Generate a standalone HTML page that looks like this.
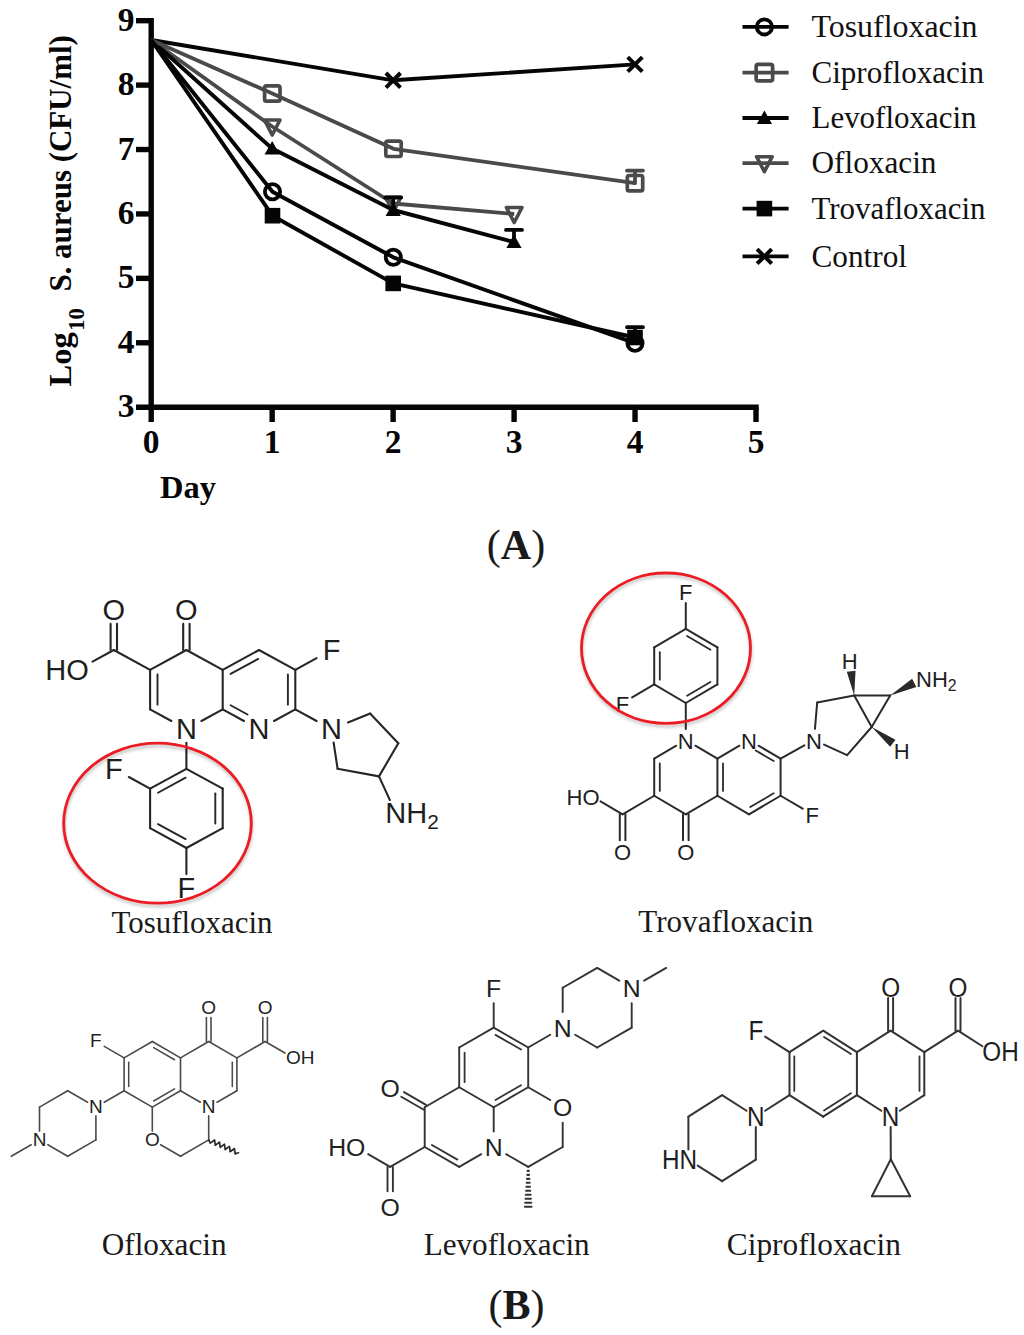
<!DOCTYPE html>
<html><head><meta charset="utf-8"><title>Figure</title>
<style>html,body{margin:0;padding:0;background:#fff}svg{display:block}</style></head>
<body>
<svg width="1024" height="1335" viewBox="0 0 1024 1335">
<rect width="1024" height="1335" fill="#fff"/>
<g fill="none" stroke="#050505" stroke-width="5.4" stroke-linecap="butt">
<path d="M151.2 18 V422"/>
<path d="M136 407.2 H758.7"/>
<path d="M136 342.78 H151.2"/>
<path d="M136 278.36 H151.2"/>
<path d="M136 213.94 H151.2"/>
<path d="M136 149.52 H151.2"/>
<path d="M136 85.1 H151.2"/>
<path d="M136 20.68 H151.2"/>
<path d="M272.16 407.2 V422"/>
<path d="M393.12 407.2 V422"/>
<path d="M514.08 407.2 V422"/>
<path d="M635.04 407.2 V422"/>
<path d="M756 407.2 V422"/>
</g>
<g font-family="Liberation Serif" font-weight="bold" font-size="32.5" fill="#050505">
<text x="134.5" y="417.2" text-anchor="end" font-size="33.5">3</text>
<text x="134.5" y="352.78" text-anchor="end" font-size="33.5">4</text>
<text x="134.5" y="288.36" text-anchor="end" font-size="33.5">5</text>
<text x="134.5" y="223.94" text-anchor="end" font-size="33.5">6</text>
<text x="134.5" y="159.52" text-anchor="end" font-size="33.5">7</text>
<text x="134.5" y="95.1" text-anchor="end" font-size="33.5">8</text>
<text x="134.5" y="30.68" text-anchor="end" font-size="33.5">9</text>
<text x="151.2" y="453" text-anchor="middle" font-size="33.5">0</text>
<text x="272.16" y="453" text-anchor="middle" font-size="33.5">1</text>
<text x="393.12" y="453" text-anchor="middle" font-size="33.5">2</text>
<text x="514.08" y="453" text-anchor="middle" font-size="33.5">3</text>
<text x="635.04" y="453" text-anchor="middle" font-size="33.5">4</text>
<text x="756" y="453" text-anchor="middle" font-size="33.5">5</text>
<text x="188" y="498" text-anchor="middle">Day</text>
<text transform="translate(71.2 386.5) rotate(-90)" x="0" y="0">Log</text>
<text transform="translate(83.8 330.8) rotate(-90)" x="0" y="0" font-size="22.5">10</text>
<text transform="translate(71.2 291.6) rotate(-90)" x="0" y="0" textLength="256.5" lengthAdjust="spacingAndGlyphs">S. aureus (CFU/ml)</text>
</g>
<path d="M151.2 40 L393.2 80.3 L635 64.4" fill="none" stroke="#050505" stroke-width="3.9" stroke-linejoin="round"/>
<path d="M385.9 73 L400.5 87.6 M385.9 87.6 L400.5 73" stroke="#050505" stroke-width="4" fill="none"/>
<path d="M627.7 57.1 L642.3 71.7 M627.7 71.7 L642.3 57.1" stroke="#050505" stroke-width="4" fill="none"/>
<path d="M151.2 40 L272.5 215.7 L393.2 283.4 L635 337.5" fill="none" stroke="#050505" stroke-width="3.9" stroke-linejoin="round"/>
<path d="M635 337.5 V327.2 M627 327.2 H643" fill="none" stroke="#050505" stroke-width="3.8" stroke-linecap="round"/>
<rect x="264.7" y="207.9" width="15.6" height="15.6" fill="#050505"/>
<rect x="385.4" y="275.6" width="15.6" height="15.6" fill="#050505"/>
<rect x="627.2" y="329.7" width="15.6" height="15.6" fill="#050505"/>
<path d="M151.2 40 L272.2 126.5 L393.2 203.5 L514.2 214" fill="none" stroke="#4a4a4a" stroke-width="3.8" stroke-linejoin="round"/>
<path d="M264.4 120 L280 120 L272.2 135 Z" fill="none" stroke="#4a4a4a" stroke-width="3.6" stroke-linejoin="round"/>
<path d="M385.4 197 L401 197 L393.2 212 Z" fill="none" stroke="#4a4a4a" stroke-width="3.6" stroke-linejoin="round"/>
<path d="M506.4 207.5 L522 207.5 L514.2 222.5 Z" fill="none" stroke="#4a4a4a" stroke-width="3.6" stroke-linejoin="round"/>
<path d="M151.2 40 L272.2 148.6 L393.2 210 L514 242" fill="none" stroke="#050505" stroke-width="3.9" stroke-linejoin="round"/>
<path d="M393.2 210 V197.6 M385.2 197.6 H401.2" fill="none" stroke="#050505" stroke-width="3.8" stroke-linecap="round"/>
<path d="M514 242 V229.9 M506 229.9 H522" fill="none" stroke="#050505" stroke-width="3.8" stroke-linecap="round"/>
<path d="M272.2 141.1 L279.8 154.6 L264.6 154.6 Z" fill="#050505"/>
<path d="M393.2 202.5 L400.8 216 L385.6 216 Z" fill="#050505"/>
<path d="M514 234.5 L521.6 248 L506.4 248 Z" fill="#050505"/>
<path d="M151.2 40 L272.3 93.5 L393.5 148.8 L635 183.2" fill="none" stroke="#4a4a4a" stroke-width="3.8" stroke-linejoin="round"/>
<path d="M635 183.2 V170.6 M627 170.6 H643" fill="none" stroke="#4a4a4a" stroke-width="3.8" stroke-linecap="round"/>
<rect x="264.6" y="85.8" width="15.4" height="15.4" rx="2" fill="none" stroke="#4a4a4a" stroke-width="3.7"/>
<rect x="385.8" y="141.1" width="15.4" height="15.4" rx="2" fill="none" stroke="#4a4a4a" stroke-width="3.7"/>
<rect x="627.3" y="175.5" width="15.4" height="15.4" rx="2" fill="none" stroke="#4a4a4a" stroke-width="3.7"/>
<path d="M151.2 40 L272.5 191.7 L393.3 257.3 L635 343.2" fill="none" stroke="#050505" stroke-width="3.9" stroke-linejoin="round"/>
<circle cx="272.5" cy="191.7" r="7.6" fill="none" stroke="#050505" stroke-width="3.8"/>
<circle cx="393.3" cy="257.3" r="7.6" fill="none" stroke="#050505" stroke-width="3.8"/>
<circle cx="635" cy="343.2" r="7.6" fill="none" stroke="#050505" stroke-width="3.8"/>
<path d="M742.5 26.9 H788.6" stroke="#050505" stroke-width="3.8" fill="none"/>
<circle cx="764.4" cy="26.9" r="7.6" fill="none" stroke="#050505" stroke-width="3.8"/>
<text x="811.5" y="37.1" font-family="Liberation Serif" font-size="32.5" fill="#111" textLength="166" lengthAdjust="spacingAndGlyphs">Tosufloxacin</text>
<path d="M742.5 72.7 H788.6" stroke="#4a4a4a" stroke-width="3.8" fill="none"/>
<rect x="756.16" y="64.46" width="16.48" height="16.48" rx="2.14" fill="none" stroke="#4a4a4a" stroke-width="3.7"/>
<text x="811.5" y="82.9" font-family="Liberation Serif" font-size="32.5" fill="#111" textLength="172.5" lengthAdjust="spacingAndGlyphs">Ciprofloxacin</text>
<path d="M742.5 118 H788.6" stroke="#050505" stroke-width="3.8" fill="none"/>
<path d="M764.4 110.5 L772 124 L756.8 124 Z" fill="#050505"/>
<text x="811.5" y="128.2" font-family="Liberation Serif" font-size="32.5" fill="#111" textLength="165" lengthAdjust="spacingAndGlyphs">Levofloxacin</text>
<path d="M742.5 163.2 H788.6" stroke="#4a4a4a" stroke-width="3.8" fill="none"/>
<path d="M756.6 156.7 L772.2 156.7 L764.4 171.7 Z" fill="none" stroke="#4a4a4a" stroke-width="3.6" stroke-linejoin="round"/>
<text x="811.5" y="173.4" font-family="Liberation Serif" font-size="32.5" fill="#111" textLength="125" lengthAdjust="spacingAndGlyphs">Ofloxacin</text>
<path d="M742.5 208.6 H788.6" stroke="#050505" stroke-width="3.8" fill="none"/>
<rect x="756.6" y="200.8" width="15.6" height="15.6" fill="#050505"/>
<text x="811.5" y="218.8" font-family="Liberation Serif" font-size="32.5" fill="#111" textLength="174" lengthAdjust="spacingAndGlyphs">Trovafloxacin</text>
<path d="M742.5 256.4 H788.6" stroke="#050505" stroke-width="3.8" fill="none"/>
<path d="M757.1 249.1 L771.7 263.7 M757.1 263.7 L771.7 249.1" stroke="#050505" stroke-width="4" fill="none"/>
<text x="811.5" y="266.6" font-family="Liberation Serif" font-size="32.5" fill="#111" textLength="95.5" lengthAdjust="spacingAndGlyphs">Control</text>
<g stroke="#262626" stroke-width="2.1" fill="none" stroke-linecap="round" stroke-linejoin="round">
<path d="M189.6 650 L189.6 623.9"/>
<path d="M183.2 650 L183.2 623.9"/>
<path d="M186.4 650 L150.1 669.8"/>
<path d="M150.1 669.8 L113.8 650"/>
<path d="M117 650 L117 623.9"/>
<path d="M110.6 650 L110.6 623.9"/>
<path d="M113.8 650 L92.52 661.61"/>
<path d="M150.1 669.8 L150.1 709.4"/>
<path d="M157.5 674.55 L157.5 704.65" stroke-width="1.9"/>
<path d="M150.1 709.4 L171.38 721.01"/>
<path d="M201.42 721.01 L222.7 709.4"/>
<path d="M222.7 709.4 L222.7 669.8"/>
<path d="M222.7 669.8 L186.4 650"/>
<path d="M222.7 669.8 L259 650"/>
<path d="M230.6 673.92 L258.19 658.87" stroke-width="1.9"/>
<path d="M259 650 L295.3 669.8"/>
<path d="M295.3 669.8 L295.3 709.4"/>
<path d="M287.9 674.55 L287.9 704.65" stroke-width="1.9"/>
<path d="M295.3 709.4 L274.02 721.01"/>
<path d="M243.98 721.01 L222.7 709.4"/>
<path d="M247.52 714.51 L230.6 705.28" stroke-width="1.9"/>
<path d="M295.3 669.8 L316.58 658.19"/>
<path d="M295.3 709.4 L316.58 721.01"/>
<path d="M348.01 722.51 L370.1 713.5"/>
<path d="M370.1 713.5 L398.3 743.2"/>
<path d="M398.3 743.2 L379 776.4"/>
<path d="M379 776.4 L337.6 768.8"/>
<path d="M337.6 768.8 L333.63 742.62"/>
<path d="M379 776.4 L389.91 800.17"/>
<path d="M186.4 742.7 L186.4 768.8"/>
<path d="M186.4 768.8 L150.1 788.6"/>
<path d="M185.59 777.67 L158 792.72" stroke-width="1.9"/>
<path d="M150.1 788.6 L150.1 828.2"/>
<path d="M150.1 828.2 L186.4 848"/>
<path d="M158 824.08 L185.59 839.13" stroke-width="1.9"/>
<path d="M186.4 848 L222.7 828.2"/>
<path d="M222.7 828.2 L222.7 788.6"/>
<path d="M215.3 823.45 L215.3 793.35" stroke-width="1.9"/>
<path d="M222.7 788.6 L186.4 768.8"/>
<path d="M150.1 788.6 L128.82 776.99"/>
<path d="M186.4 848 L186.4 874.1"/>
</g>
<g font-family="Liberation Sans" font-size="29" fill="#1e1e1e" stroke="none">
<text x="186.4" y="620.38" text-anchor="middle">O</text>
<text x="113.8" y="620.38" text-anchor="middle">O</text>
<text x="88.78" y="679.78" text-anchor="end">HO</text>
<text x="186.4" y="739.18" text-anchor="middle">N</text>
<text x="331.6" y="659.98" text-anchor="middle">F</text>
<text x="259" y="739.18" text-anchor="middle">N</text>
<text x="331.6" y="739.18" text-anchor="middle">N</text>
<text x="385.33" y="822.98">NH<tspan font-size="20.88" dy="6.38">2</tspan></text>
<text x="113.8" y="778.78" text-anchor="middle">F</text>
<text x="186.4" y="897.58" text-anchor="middle">F</text>
</g>
<g stroke="#2a2a2a" stroke-width="2" fill="none" stroke-linecap="round" stroke-linejoin="round">
<path d="M683 814.3 L683 840.2"/>
<path d="M688.6 814.3 L688.6 840.2"/>
<path d="M685.8 814.3 L654.2 795.75"/>
<path d="M654.2 795.75 L654.2 758.65"/>
<path d="M659.8 790.93 L659.8 763.47" stroke-width="1.8"/>
<path d="M654.2 758.65 L676.27 745.69"/>
<path d="M695.33 745.69 L717.4 758.65"/>
<path d="M717.4 758.65 L717.4 795.75"/>
<path d="M723 763.47 L723 790.93" stroke-width="1.8"/>
<path d="M717.4 795.75 L685.8 814.3"/>
<path d="M717.4 795.75 L749 814.3"/>
<path d="M749 814.3 L780.6 795.75"/>
<path d="M750.27 807.06 L773.66 793.33" stroke-width="1.8"/>
<path d="M780.6 795.75 L780.6 758.65"/>
<path d="M780.6 758.65 L758.53 745.69"/>
<path d="M773.66 761.07 L755.69 750.52" stroke-width="1.8"/>
<path d="M739.47 745.69 L717.4 758.65"/>
<path d="M780.6 795.75 L802.67 808.71"/>
<path d="M780.6 758.65 L804.36 745.39"/>
<path d="M654.2 795.75 L622.6 814.3"/>
<path d="M619.8 814.3 L619.8 840.2"/>
<path d="M625.4 814.3 L625.4 840.2"/>
<path d="M622.6 814.3 L600.53 801.34"/>
<path d="M685.8 728.9 L685.8 703"/>
<path d="M685.8 703 L654.2 684.45"/>
<path d="M654.2 684.45 L654.2 647.35"/>
<path d="M659.8 679.63 L659.8 652.17" stroke-width="1.8"/>
<path d="M654.2 647.35 L685.8 628.8"/>
<path d="M685.8 628.8 L717.4 647.35"/>
<path d="M687.07 636.04 L710.46 649.77" stroke-width="1.8"/>
<path d="M717.4 647.35 L717.4 684.45"/>
<path d="M717.4 684.45 L685.8 703"/>
<path d="M710.46 682.03 L687.07 695.76" stroke-width="1.8"/>
<path d="M685.8 628.8 L685.8 602.9"/>
<path d="M654.2 684.45 L632.13 697.41"/>
<path d="M814.95 728.84 L817.2 702.4"/>
<path d="M817.2 702.4 L854.2 695.4"/>
<path d="M854.2 695.4 L890.2 695.4"/>
<path d="M890.2 695.4 L871.7 727"/>
<path d="M871.7 727 L854.2 695.4"/>
<path d="M871.7 727 L847.1 755.1"/>
<path d="M847.1 755.1 L824.04 744.58"/>
</g>
<g fill="#2a2a2a" stroke="none"><path d="M854.2 695.4 L855.55 670.76 L846.82 671.86 Z"/><path d="M890.2 695.4 L916.33 686.98 L912.08 678.82 Z"/><path d="M871.7 727 L890.13 746.66 L895.48 739.67 Z"/></g>
<g font-family="Liberation Sans" font-size="22" fill="#1e1e1e" stroke="none">
<text x="685.8" y="860.17" text-anchor="middle">O</text>
<text x="685.8" y="748.87" text-anchor="middle">N</text>
<text x="749" y="748.87" text-anchor="middle">N</text>
<text x="814" y="748.77" text-anchor="middle">N</text>
<text x="812.2" y="823.07" text-anchor="middle">F</text>
<text x="622.6" y="860.17" text-anchor="middle">O</text>
<text x="599.56" y="804.52" text-anchor="end">HO</text>
<text x="685.8" y="600.47" text-anchor="middle">F</text>
<text x="622.6" y="711.77" text-anchor="middle">F</text>
<text x="849.8" y="668.97" text-anchor="middle">H</text>
<text x="916.06" y="686.57">NH<tspan font-size="15.84" dy="4.84">2</tspan></text>
<text x="901.6" y="758.67" text-anchor="middle">H</text>
</g>
<g stroke="#4a4a4a" stroke-width="1.6" fill="none" stroke-linecap="round" stroke-linejoin="round">
<path d="M152.3 1041.5 L124.1 1057.9"/>
<path d="M152.3 1041.5 L180.5 1057.9"/>
<path d="M153.65 1047.61 L174.52 1059.74" stroke-width="1.5"/>
<path d="M124.1 1057.9 L124.1 1090.7"/>
<path d="M128.7 1062.16 L128.7 1086.44" stroke-width="1.5"/>
<path d="M124.1 1090.7 L152.3 1107.1"/>
<path d="M152.3 1107.1 L180.5 1090.7"/>
<path d="M153.65 1100.99 L174.52 1088.86" stroke-width="1.5"/>
<path d="M180.5 1090.7 L180.5 1057.9"/>
<path d="M180.5 1057.9 L208.7 1041.5"/>
<path d="M211 1041.5 L211 1017.5"/>
<path d="M206.4 1041.5 L206.4 1017.5"/>
<path d="M208.7 1041.5 L236.9 1057.9"/>
<path d="M236.9 1057.9 L236.9 1090.7"/>
<path d="M232.3 1062.16 L232.3 1086.44" stroke-width="1.5"/>
<path d="M236.9 1090.7 L217.04 1102.25"/>
<path d="M200.36 1102.25 L180.5 1090.7"/>
<path d="M236.9 1057.9 L265.1 1041.5"/>
<path d="M267.4 1041.5 L267.4 1017.5"/>
<path d="M262.8 1041.5 L262.8 1017.5"/>
<path d="M265.1 1041.5 L284.96 1053.05"/>
<path d="M124.1 1057.9 L104.24 1046.35"/>
<path d="M124.1 1090.7 L104.24 1102.25"/>
<path d="M87.56 1102.25 L67.7 1090.7"/>
<path d="M67.7 1090.7 L39.5 1107.1"/>
<path d="M39.5 1107.1 L39.5 1131.1"/>
<path d="M47.84 1144.75 L67.7 1156.3"/>
<path d="M67.7 1156.3 L95.9 1139.9"/>
<path d="M95.9 1139.9 L95.9 1115.9"/>
<path d="M31.16 1144.75 L11.3 1156.3"/>
<path d="M152.3 1107.1 L152.3 1131.1"/>
<path d="M160.64 1144.75 L180.5 1156.3"/>
<path d="M180.5 1156.3 L208.7 1139.9"/>
<path d="M208.7 1139.9 L208.7 1115.9"/>
<path d="M208.7 1139.9 L210.27 1143.09 L214.58 1139.94 L215.24 1145.24 L219.55 1142.09 L220.2 1147.39 L224.51 1144.24 L225.17 1149.54 L229.48 1146.39 L230.14 1151.69 L234.45 1148.54 L235.1 1153.84 L238.5 1152.8" stroke-width="1.7" stroke="#2a2a2a"/>
</g>
<g font-family="Liberation Sans" font-size="19" fill="#222" stroke="none">
<text x="208.7" y="1014.34" text-anchor="middle">O</text>
<text x="208.7" y="1112.74" text-anchor="middle">N</text>
<text x="265.1" y="1014.34" text-anchor="middle">O</text>
<text x="285.91" y="1063.54">OH</text>
<text x="95.9" y="1047.14" text-anchor="middle">F</text>
<text x="95.9" y="1112.74" text-anchor="middle">N</text>
<text x="39.5" y="1145.54" text-anchor="middle">N</text>
<text x="152.3" y="1145.54" text-anchor="middle">O</text>
</g>
<g stroke="#333" stroke-width="1.9" fill="none" stroke-linecap="round" stroke-linejoin="round">
<path d="M493.7 1027.6 L493.7 1003.3"/>
<path d="M493.7 1027.6 L459.2 1047.5"/>
<path d="M459.2 1047.5 L459.2 1087.3"/>
<path d="M464.6 1052.67 L464.6 1082.13" stroke-width="1.8"/>
<path d="M459.2 1087.3 L493.7 1107.2"/>
<path d="M493.7 1107.2 L528.2 1087.3"/>
<path d="M495.49 1099.94 L521.02 1085.21" stroke-width="1.8"/>
<path d="M528.2 1087.3 L528.2 1047.5"/>
<path d="M528.2 1047.5 L493.7 1027.6"/>
<path d="M521.02 1049.59 L495.49 1034.86" stroke-width="1.8"/>
<path d="M459.2 1087.3 L424.7 1107.2"/>
<path d="M426.05 1104.86 L403.97 1092.12"/>
<path d="M423.35 1109.54 L401.27 1096.8"/>
<path d="M424.7 1107.2 L424.7 1147"/>
<path d="M424.7 1147 L459.2 1166.9"/>
<path d="M431.88 1144.91 L457.41 1159.64" stroke-width="1.8"/>
<path d="M459.2 1166.9 L481.28 1154.16"/>
<path d="M493.7 1131.5 L493.7 1107.2"/>
<path d="M424.7 1147 L390.2 1166.9"/>
<path d="M387.5 1166.9 L387.5 1191.2"/>
<path d="M392.9 1166.9 L392.9 1191.2"/>
<path d="M390.2 1166.9 L368.12 1154.16"/>
<path d="M528.2 1087.3 L550.28 1100.04"/>
<path d="M562.7 1122.7 L562.7 1147"/>
<path d="M562.7 1147 L528.2 1166.9"/>
<path d="M528.2 1166.9 L506.12 1154.16"/>
<path d="M528.8 1170.88 L527.6 1170.88" stroke-width="2.1"/>
<path d="M529.1 1174.86 L527.3 1174.86" stroke-width="2.1"/>
<path d="M529.4 1178.84 L527 1178.84" stroke-width="2.1"/>
<path d="M529.7 1182.82 L526.7 1182.82" stroke-width="2.1"/>
<path d="M530 1186.8 L526.4 1186.8" stroke-width="2.1"/>
<path d="M530.3 1190.78 L526.1 1190.78" stroke-width="2.1"/>
<path d="M530.6 1194.76 L525.8 1194.76" stroke-width="2.1"/>
<path d="M530.9 1198.74 L525.5 1198.74" stroke-width="2.1"/>
<path d="M531.2 1202.72 L525.2 1202.72" stroke-width="2.1"/>
<path d="M531.5 1206.7 L524.9 1206.7" stroke-width="2.1"/>
<path d="M528.2 1047.5 L550.28 1034.76"/>
<path d="M562.7 1012.1 L562.7 987.8"/>
<path d="M562.7 987.8 L597.2 967.9"/>
<path d="M597.2 967.9 L619.28 980.64"/>
<path d="M631.7 1003.3 L631.7 1027.6"/>
<path d="M631.7 1027.6 L597.2 1047.5"/>
<path d="M597.2 1047.5 L575.12 1034.76"/>
<path d="M644.12 980.64 L666.2 967.9"/>
</g>
<g font-family="Liberation Sans" font-size="24.8" fill="#222" stroke="none">
<text x="493.7" y="997.03" text-anchor="middle">F</text>
<text x="390.2" y="1096.53" text-anchor="middle">O</text>
<text x="493.7" y="1156.23" text-anchor="middle">N</text>
<text x="390.2" y="1215.93" text-anchor="middle">O</text>
<text x="365.34" y="1156.23" text-anchor="end">HO</text>
<text x="562.7" y="1116.43" text-anchor="middle">O</text>
<text x="562.7" y="1036.83" text-anchor="middle">N</text>
<text x="631.7" y="997.03" text-anchor="middle">N</text>
</g>
<g stroke="#333" stroke-width="2" fill="none" stroke-linecap="round" stroke-linejoin="round">
<path d="M789.5 1052.2 L823.2 1030.7"/>
<path d="M823.2 1030.7 L856.9 1052.2"/>
<path d="M823.99 1036.9 L850.95 1054.1" stroke-width="1.8"/>
<path d="M856.9 1052.2 L856.9 1095.2"/>
<path d="M856.9 1095.2 L823.2 1116.7"/>
<path d="M850.95 1093.3 L823.99 1110.5" stroke-width="1.8"/>
<path d="M823.2 1116.7 L789.5 1095.2"/>
<path d="M789.5 1095.2 L789.5 1052.2"/>
<path d="M794.3 1090.9 L794.3 1056.5" stroke-width="1.8"/>
<path d="M789.5 1052.2 L765.08 1036.62"/>
<path d="M856.9 1052.2 L890.6 1030.7"/>
<path d="M893.1 1030.7 L893.1 997.9"/>
<path d="M888.1 1030.7 L888.1 997.9"/>
<path d="M890.6 1030.7 L924.3 1052.2"/>
<path d="M924.3 1052.2 L924.3 1095.2"/>
<path d="M919.5 1056.5 L919.5 1090.9" stroke-width="1.8"/>
<path d="M924.3 1095.2 L899.88 1110.78"/>
<path d="M881.32 1110.78 L856.9 1095.2"/>
<path d="M924.3 1052.2 L958 1030.7"/>
<path d="M960.5 1030.7 L960.5 997.9"/>
<path d="M955.5 1030.7 L955.5 997.9"/>
<path d="M958 1030.7 L982.42 1046.28"/>
<path d="M789.5 1095.2 L765.08 1110.78"/>
<path d="M746.52 1110.78 L722.1 1095.2"/>
<path d="M722.1 1095.2 L688.4 1116.7"/>
<path d="M688.4 1116.7 L688.4 1149.5"/>
<path d="M697.68 1165.62 L722.1 1181.2"/>
<path d="M722.1 1181.2 L755.8 1159.7"/>
<path d="M755.8 1159.7 L755.8 1126.9"/>
<path d="M890.65 1126.9 L890.8 1159.3"/>
<path d="M890.8 1159.3 L871.9 1196.2"/>
<path d="M871.9 1196.2 L910.2 1196.2"/>
<path d="M910.2 1196.2 L890.8 1159.3"/>
</g>
<g font-family="Liberation Sans" font-size="27" fill="#1e1e1e" stroke="none">
<text x="755.8" y="1039.99" text-anchor="middle" transform="translate(75.58 0) scale(0.9 1)">F</text>
<text x="890.6" y="996.99" text-anchor="middle" transform="translate(89.06 0) scale(0.9 1)">O</text>
<text x="890.6" y="1125.99" text-anchor="middle" transform="translate(89.06 0) scale(0.9 1)">N</text>
<text x="958" y="996.99" text-anchor="middle" transform="translate(95.8 0) scale(0.9 1)">O</text>
<text x="981.2" y="1061.49" transform="translate(99.17 0) scale(0.9 1)">OH</text>
<text x="755.8" y="1125.99" text-anchor="middle" transform="translate(75.58 0) scale(0.9 1)">N</text>
<text x="698.15" y="1168.99" text-anchor="end" transform="translate(68.84 0) scale(0.9 1)">HN</text>
</g>
<g font-family="Liberation Serif" font-size="31" fill="#1a1a1a">
<text x="111.5" y="932.7" textLength="161" lengthAdjust="spacingAndGlyphs">Tosufloxacin</text>
<text x="638.3" y="931.9" textLength="175" lengthAdjust="spacingAndGlyphs">Trovafloxacin</text>
<text x="101.7" y="1255.2" textLength="125" lengthAdjust="spacingAndGlyphs">Ofloxacin</text>
<text x="423.7" y="1255.2" textLength="166" lengthAdjust="spacingAndGlyphs">Levofloxacin</text>
<text x="726.8" y="1255.2" textLength="174" lengthAdjust="spacingAndGlyphs">Ciprofloxacin</text>
</g>
<g font-family="Liberation Serif" font-size="42" fill="#1a1a1a">
<text x="516" y="559" text-anchor="middle">(<tspan font-weight="bold">A</tspan>)</text>
<text x="516.5" y="1319.4" text-anchor="middle">(<tspan font-weight="bold">B</tspan>)</text>
</g>
<defs><filter id="sh" x="-10%" y="-10%" width="120%" height="130%"><feGaussianBlur stdDeviation="1.6"/></filter></defs>
<g filter="url(#sh)" fill="none" stroke="#000" stroke-opacity="0.22" stroke-width="3">
<ellipse cx="158" cy="826" rx="93.8" ry="80"/>
<ellipse cx="666.5" cy="651" rx="84.5" ry="75.2"/>
</g>
<ellipse cx="157.5" cy="823.2" rx="93.8" ry="80" fill="none" stroke="#ec1c24" stroke-width="2.8"/>
<ellipse cx="666" cy="648.2" rx="84.5" ry="75.2" fill="none" stroke="#ec1c24" stroke-width="2.8"/>
</svg>
</body></html>
